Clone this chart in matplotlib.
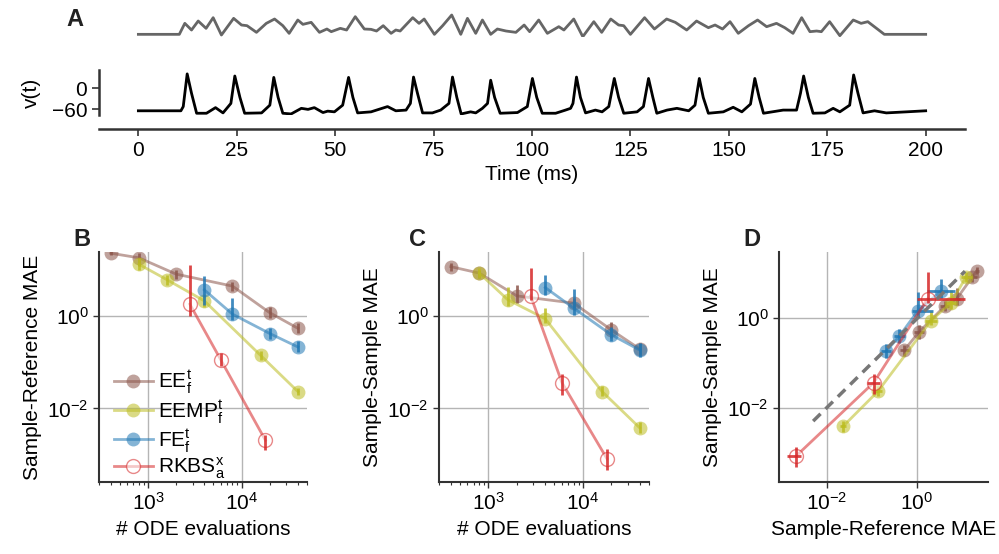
import numpy as np
import matplotlib.pyplot as plt
from matplotlib.ticker import LogLocator, NullFormatter, NullLocator

plt.rcParams['font.family'] = ['Liberation Sans', 'DejaVu Sans']
plt.rcParams['mathtext.default'] = 'regular'
plt.rcParams['font.size'] = 15

# stimulus trace (arbitrary units)
stim_t = [0, 10.4, 11.8, 13.5, 15.2, 17.2, 19.0, 21.1, 24.2, 26.2, 27.6, 30.0, 32.5, 34.6, 36.7,
          38.3, 40.5, 41.8, 43.9, 46.0, 47.9, 49.0, 51.3, 52.9, 55.1, 57.4, 59.1, 60.5, 62.2,
          64.2, 65.4, 66.5, 69.7, 71.3, 72.6, 75.2, 77.3, 79.6, 81.9, 83.6, 85.7, 87.4, 89.5,
          91.2, 93.4, 95.9, 98.0, 99.4, 101.7, 103.9, 106.8, 108.1, 110.6, 112.9, 115.7, 117.7,
          120.0, 122.0, 123.3, 125.0, 128.6, 131.1, 134.2, 136.4, 139.3, 141.8, 144.8, 146.5,
          148.4, 150.3, 152.4, 155.0, 157.3, 159.6, 162.1, 164.2, 166.3, 168.5, 170.6, 172.3,
          173.5, 175.6, 178.2, 181.6, 183.6, 185.3, 189.5, 200.0]
stim_i = [0, 0, 3.3, 1.3, 4.0, 1.8, 5.0, -0.2, 4.8, 2.8, 2.6, 0.6, 3.3, 4.6, 2.6,
          0.3, 4.3, 3.0, 3.6, 0.6, 1.6, 0.8, 1.8, 1.3, 5.3, 1.6, 1.5, 1.0, 2.6,
          0.3, 1.3, 1.0, 5.0, 3.3, 4.6, 0.0, 2.6, 5.8, 0.0, 4.8, 0.3, 4.3, 0.0,
          1.6, 1.0, 0.6, 2.8, 0.8, 4.3, 0.3, 2.3, 1.3, 4.6, -0.7, 3.8, 0.6,
          4.6, 2.8, 2.6, 0.0, 5.0, 1.6, 4.6, 3.6, 1.3, 4.0, 2.0, 2.8,
          1.6, 3.8, 0.3, 2.6, 4.3, 2.3, 3.3, 2.0, 0.3, 5.0, 0.8, 1.0,
          0.8, 3.8, -0.4, 4.3, 3.3, 3.8, 0, 0]

# membrane potential (mV)
v_t = [0, 10.8, 11.4, 12.4, 13.5, 14.8, 17.3, 19.6, 21.5, 23.5, 24.5, 25.8, 27.0, 31.3, 33.4,
       34.4, 35.5, 36.7, 38.8, 41.4, 43.1, 44.7, 46.9, 48.1, 49.8, 51.9, 53.4, 54.5, 55.7,
       59.1, 63.3, 65.4, 68.0, 69.1, 69.9, 70.9, 72.2, 74.7, 76.8, 78.9, 79.8, 80.9, 82.0,
       84.4, 85.7, 87.4, 88.7, 89.5, 90.5, 91.9, 96.3, 98.8, 100.1, 101.2, 102.6, 106.0,
       108.5, 109.8, 110.4, 111.3, 112.3, 113.6, 116.1, 117.8, 119.5, 120.9, 122.0, 123.3,
       126.7, 128.3, 129.6, 130.7, 131.7, 134.3, 136.8, 139.8, 141.4, 142.5, 143.5, 144.8,
       148.6, 151.1, 153.3, 155.5, 156.6, 157.7, 158.8, 163.8, 167.2, 168.2, 169.0, 170.2,
       171.4, 174.4, 176.5, 178.2, 180.7, 181.7, 182.8, 184.1, 187.0, 190.0, 195.1, 200.0]
v_mv = [-64, -64, -52, 41, -14, -71, -71, -55, -70, -43, 35, -26, -71, -70, -48,
        31, -26, -71, -73, -57, -60, -55, -69, -65, -67, -48, 31, -26, -70,
        -67, -52, -64, -62, -43, 32, -14, -70, -70, -62, -43, 32, -26, -73,
        -67, -70, -57, -43, 23, -26, -71, -69, -52, 28, -26, -71, -71,
        -62, -57, -43, 32, -26, -70, -62, -67, -52, 28, -26, -71,
        -67, -52, 28, -26, -71, -62, -57, -64, -48, 28, -26, -71,
        -67, -54, -67, -45, 28, -26, -71, -62, -62, -14, 35, -26,
        -71, -70, -57, -67, -48, 38, -14, -70, -64, -70, -67, -64]

# panel B (sample-reference MAE) and C (sample-sample MAE)
ee_n = [400, 800, 2000, 8000, 20000, 40000]
ee_ref = [22, 17.5, 7.8, 4.3, 1.15, 0.53]
ee_ref_lo = [20, 11.5, 6.2, 3.3, 0.88, 0.42]
ee_ref_hi = [24, 22, 9.5, 5.4, 1.5, 0.69]
ee_ss = [11.3, 8.2, 2.65, 1.85, 0.49, 0.19]
ee_ss_lo = [9.3, 6.4, 1.9, 1.44, 0.33, 0.143]
ee_ss_hi = [13.8, 9.6, 4.6, 2.37, 0.71, 0.255]

eemp_n = [800, 1600, 4000, 16000, 40000]
eemp_ref = [12.7, 5.9, 2.07, 0.138, 0.023]
eemp_ref_lo = [9.6, 4.6, 1.56, 0.111, 0.0197]
eemp_ref_hi = [17, 7.5, 2.8, 0.168, 0.0275]
eemp_ss = [8.2, 2.2, 0.85, 0.023, 0.0038]
eemp_ss_lo = [6.4, 1.6, 0.69, 0.0181, 0.0029]
eemp_ss_hi = [10.5, 4.2, 1.44, 0.0297, 0.005]

fe_n = [4000, 8000, 20000, 40000]
fe_ref = [3.57, 1.07, 0.41, 0.21]
fe_ref_lo = [1.7, 0.81, 0.31, 0.163]
fe_ref_hi = [7.1, 2.37, 0.54, 0.276]
fe_ss = [4.0, 1.44, 0.385, 0.18]
fe_ss_lo = [2.8, 1.03, 0.28, 0.13]
fe_ss_hi = [7.5, 3.7, 0.58, 0.26]

rk_n = [2800, 6000, 18000]
rk_ref = [1.76, 0.111, 0.00205]
rk_ref_lo = [1.0, 0.08, 0.0013]
rk_ref_hi = [12.3, 0.155, 0.0027]
rk_ss = [2.66, 0.036, 0.00082]
rk_ss_lo = [2.2, 0.0197, 0.00048]
rk_ss_hi = [10.5, 0.055, 0.00134]

# dashed reference line in D (end points)
diag_x = [0.005, 12]
diag_y = [0.005, 11]

labels = ['EE$_f^t$', 'EEMP$_f^t$', 'FE$_f^t$', 'RKBS$_a^x$']
colors = ['#8c564b', '#bcbd22', '#1f77b4', '#d62728']

methods = [
    (ee_n, ee_ref, ee_ref_lo, ee_ref_hi, ee_ss, ee_ss_lo, ee_ss_hi),
    (eemp_n, eemp_ref, eemp_ref_lo, eemp_ref_hi, eemp_ss, eemp_ss_lo, eemp_ss_hi),
    (fe_n, fe_ref, fe_ref_lo, fe_ref_hi, fe_ss, fe_ss_lo, fe_ss_hi),
    (rk_n, rk_ref, rk_ref_lo, rk_ref_hi, rk_ss, rk_ss_lo, rk_ss_hi),
]

fig = plt.figure(figsize=(9.99, 5.54), dpi=100)

spine_col = '#333333'

# ---- panel A
ax_s = fig.add_axes([0.0991, 0.9332, 0.8669, 0.0451])
ax_s.plot(stim_t, stim_i, color='#666666', lw=2)
ax_s.set_xlim(-10, 210)
ax_s.set_ylim(-0.8, 6.7)
ax_s.axis('off')

ax_v = fig.add_axes([0.0991, 0.7924, 0.8669, 0.0812])
ax_v.plot(v_t, v_mv, color='k', lw=2)
ax_v.set_xlim(-10, 210)
ax_v.set_ylim(-76, 52)
ax_v.set_yticks([0, -60])
ax_v.set_xticks([0, 25, 50, 75, 100, 125, 150, 175, 200])
ax_v.set_ylabel('v(t)', labelpad=8)
ax_v.set_xlabel('Time (ms)')
ax_v.spines['top'].set_visible(False)
ax_v.spines['right'].set_visible(False)
ax_v.spines['bottom'].set_position(('outward', 10))
for sp in ['left', 'bottom']:
    ax_v.spines[sp].set_color(spine_col)
    ax_v.spines[sp].set_linewidth(1.8)
ax_v.tick_params(direction='out', length=5, width=1.2, color=spine_col)

# ---- panels B, C, D
ax_b = fig.add_axes([0.0991, 0.1300, 0.2082, 0.4152])
ax_c = fig.add_axes([0.4394, 0.1300, 0.2102, 0.4152])
ax_d = fig.add_axes([0.7798, 0.1300, 0.2092, 0.4152])

handles = []
for i, (n, ref, ref_lo, ref_hi, ss, ss_lo, ss_hi) in enumerate(methods):
    c = colors[i]
    n = np.array(n)
    ref = np.array(ref)
    ss = np.array(ss)
    ref_err = [ref - np.array(ref_lo), np.array(ref_hi) - ref]
    ss_err = [ss - np.array(ss_lo), np.array(ss_hi) - ss]
    if i == 3:
        mk = dict(marker='o', ms=10, mfc=(1, 1, 1, 0.6), mec=c, mew=1)
    else:
        mk = dict(marker='o', ms=10, mfc=c, mec='none')
    for ax, x, y, xe, ye in [(ax_b, n, ref, None, ref_err),
                             (ax_c, n, ss, None, ss_err),
                             (ax_d, ref, ss, ref_err, ss_err)]:
        h, = ax.plot(x, y, color=c, lw=2, alpha=0.55, **mk)
        ax.errorbar(x, y, xerr=xe, yerr=ye, fmt='none', ecolor=c, elinewidth=2, alpha=0.85)
        if ax is ax_b:
            handles.append(h)

ax_d.plot(diag_x, diag_y, ls='--', dashes=(3, 2), color='#777777', lw=2.5)

for ax in [ax_b, ax_c, ax_d]:
    ax.set_xscale('log')
    ax.set_yscale('log')
    ax.spines['top'].set_visible(False)
    ax.spines['right'].set_visible(False)
    for sp in ['left', 'bottom']:
        ax.spines[sp].set_color(spine_col)
        ax.spines[sp].set_linewidth(1.5)
    ax.grid(True, which='major', color='#b5b5b5', lw=1)
    ax.set_axisbelow(True)
    ax.tick_params(which='major', direction='out', length=4, width=1, color=spine_col)
    ax.tick_params(which='minor', direction='out', length=2.5, width=0.8, color=spine_col)
    ax.set_yticks([1e-2, 1e0])
    ax.yaxis.set_minor_locator(NullLocator())

for ax in [ax_b, ax_c]:
    ax.set_xlim(300, 5e4)
    ax.set_ylim(2.6e-4, 23.4)
    ax.set_xticks([1e3, 1e4])
    ax.xaxis.set_minor_locator(LogLocator(subs=np.arange(2, 10)))
    ax.xaxis.set_minor_formatter(NullFormatter())
    ax.set_xlabel('# ODE evaluations')

ax_d.set_xlim(8.7e-4, 39)
ax_d.set_ylim(2.2e-4, 29.5)
ax_d.set_xticks([1e-2, 1e0])
ax_d.xaxis.set_minor_locator(NullLocator())

ax_b.set_ylabel('Sample-Reference MAE')
ax_c.set_ylabel('Sample-Sample MAE')
ax_d.set_ylabel('Sample-Sample MAE')
ax_d.set_xlabel('Sample-Reference MAE')

ax_b.legend(handles, labels, loc='lower left', bbox_to_anchor=(0.0, -0.06), frameon=False,
            handlelength=1.9, handletextpad=0.25, labelspacing=0.1, borderaxespad=0.3)

for lab, x, y in [('A', 0.075, 0.964), ('B', 0.082, 0.567), ('C', 0.418, 0.567), ('D', 0.753, 0.567)]:
    fig.text(x, y, lab, fontsize=17, fontweight='bold', ha='center', va='center', color='#222222')

fig.savefig('out.png', dpi=100)
